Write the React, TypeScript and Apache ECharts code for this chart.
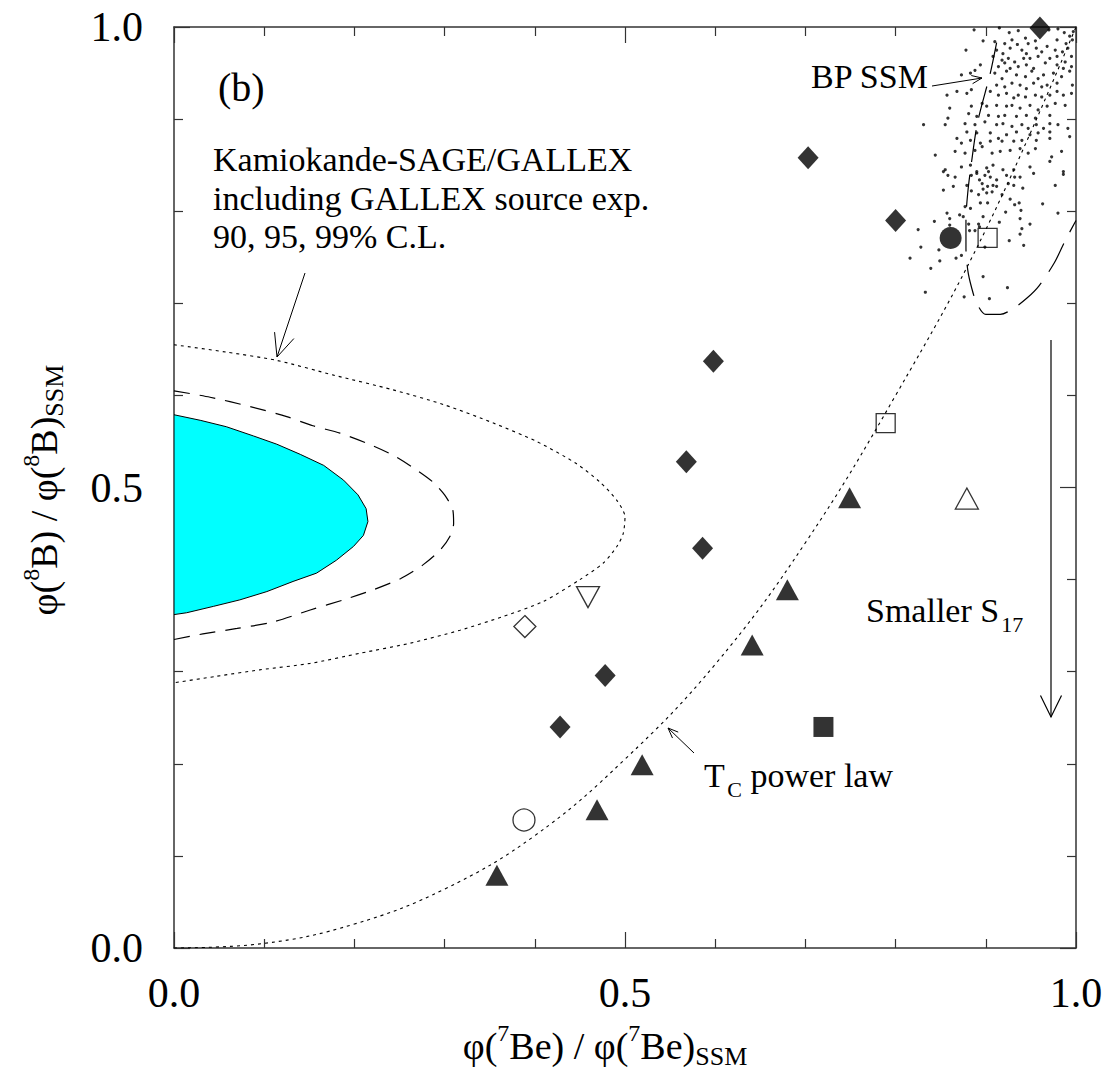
import React, { useEffect, useRef } from 'react';
import * as echarts from 'echarts';

// ---------- data ----------
const xTickValues = [0, 0.5, 1.0];
const xTickLabels = ['0.0', '0.5', '1.0'];
const yTickValues = [0, 0.5, 1.0];
const yTickLabels = ['0.0', '0.5', '1.0'];

// Kamiokande-SAGE/GALLEX 90% C.L. (filled), 95% (dashed), 99% (dotted)
const contour90 = [
  [0, 0.579], [0.029, 0.573], [0.058, 0.566], [0.088, 0.556], [0.114, 0.547], [0.140, 0.536],
  [0.166, 0.524], [0.188, 0.508], [0.204, 0.492], [0.213, 0.477], [0.215, 0.463], [0.210, 0.448],
  [0.199, 0.436], [0.180, 0.421], [0.158, 0.407], [0.132, 0.398], [0.103, 0.387], [0.073, 0.378],
  [0.044, 0.371], [0.014, 0.364], [0, 0.362],
];
const contour95 = [
  [0, 0.605], [0.040, 0.598], [0.084, 0.588], [0.125, 0.577], [0.154, 0.567], [0.184, 0.559],
  [0.214, 0.548], [0.243, 0.535], [0.269, 0.519], [0.287, 0.506], [0.300, 0.492], [0.309, 0.476],
  [0.310, 0.461], [0.306, 0.447], [0.295, 0.432], [0.276, 0.416], [0.251, 0.401], [0.221, 0.389],
  [0.188, 0.378], [0.151, 0.367], [0.110, 0.354], [0.070, 0.347], [0.032, 0.341], [0, 0.335],
];
const contour99 = [
  [0, 0.655], [0.058, 0.647], [0.114, 0.638], [0.177, 0.622], [0.243, 0.606], [0.299, 0.590],
  [0.354, 0.570], [0.402, 0.550], [0.446, 0.526], [0.472, 0.506], [0.491, 0.486], [0.500, 0.468],
  [0.498, 0.450], [0.491, 0.436], [0.476, 0.418], [0.450, 0.400], [0.409, 0.376], [0.365, 0.360],
  [0.317, 0.345], [0.262, 0.331], [0.206, 0.320], [0.151, 0.309], [0.095, 0.302], [0.047, 0.295], [0, 0.288],
];
// T_C power law curve
const tcPowerLaw = [
  [0, 0], [0.1, 0.005], [0.2, 0.026], [0.3, 0.064], [0.4, 0.122], [0.5, 0.205],
  [0.6, 0.308], [0.7, 0.44], [0.8, 0.6], [0.9, 0.78], [1.0, 1.0],
];
// BP SSM contour (long dashes)
const bpContour = [
  [0.912, 0.983], [0.905, 0.950], [0.891, 0.897], [0.884, 0.852], [0.880, 0.820], [0.878, 0.790],
  [0.878, 0.760], [0.880, 0.736], [0.884, 0.718], [0.890, 0.700], [0.900, 0.688], [0.916, 0.688],
  [0.930, 0.694], [0.946, 0.706], [0.959, 0.719], [0.976, 0.744], [0.988, 0.768], [1.0, 0.790],
];
// BP SSM Monte Carlo points
const bpDots = [
  [0.887, 0.997], [0.915, 0.999], [0.926, 0.994], [0.936, 0.996], [0.944, 0.988], [0.970, 0.997],
  [0.980, 0.998], [0.987, 0.994], [0.993, 0.990], [0.997, 0.995], [0.897, 0.985], [0.910, 0.984],
  [0.921, 0.982], [0.929, 0.986], [0.935, 0.981], [0.947, 0.982], [0.955, 0.985], [0.979, 0.986],
  [0.989, 0.982], [0.996, 0.986], [0.878, 0.975], [0.912, 0.975], [0.919, 0.971], [0.927, 0.977],
  [0.940, 0.975], [0.945, 0.971], [0.956, 0.977], [0.962, 0.973], [0.968, 0.979], [0.977, 0.975],
  [0.985, 0.973], [0.991, 0.977], [0.908, 0.968], [0.918, 0.964], [0.925, 0.966], [0.932, 0.962],
  [0.942, 0.966], [0.949, 0.966], [0.958, 0.968], [0.971, 0.966], [0.979, 0.968], [0.988, 0.962],
  [0.995, 0.968], [0.894, 0.959], [0.914, 0.957], [0.921, 0.961], [0.927, 0.955], [0.936, 0.957],
  [0.945, 0.959], [0.953, 0.955], [0.966, 0.961], [0.979, 0.959], [0.986, 0.955], [0.995, 0.957],
  [0.873, 0.948], [0.883, 0.950], [0.888, 0.953], [0.910, 0.950], [0.918, 0.944], [0.923, 0.952],
  [0.934, 0.948], [0.944, 0.946], [0.951, 0.952], [0.958, 0.944], [0.964, 0.948], [0.975, 0.950],
  [0.984, 0.946], [0.993, 0.952], [0.912, 0.937], [0.921, 0.935], [0.929, 0.939], [0.938, 0.937],
  [0.945, 0.933], [0.953, 0.939], [0.962, 0.935], [0.968, 0.937], [0.979, 0.939], [0.996, 0.937],
  [0.857, 0.926], [0.868, 0.930], [0.879, 0.928], [0.884, 0.932], [0.905, 0.930], [0.914, 0.926],
  [0.923, 0.928], [0.931, 0.923], [0.936, 0.926], [0.944, 0.924], [0.955, 0.926], [0.962, 0.924],
  [0.971, 0.926], [0.979, 0.930], [0.986, 0.926], [0.995, 0.928], [0.860, 0.912], [0.884, 0.914],
  [0.896, 0.917], [0.901, 0.914], [0.912, 0.915], [0.923, 0.914], [0.929, 0.915], [0.938, 0.912],
  [0.949, 0.915], [0.958, 0.910], [0.968, 0.914], [0.977, 0.917], [0.988, 0.915], [0.881, 0.906],
  [0.890, 0.903], [0.903, 0.904], [0.914, 0.903], [0.921, 0.904], [0.934, 0.903], [0.945, 0.904],
  [0.955, 0.901], [0.971, 0.904], [0.831, 0.894], [0.855, 0.894], [0.858, 0.901], [0.877, 0.895],
  [0.888, 0.894], [0.899, 0.897], [0.912, 0.894], [0.919, 0.895], [0.929, 0.892], [0.940, 0.894],
  [0.947, 0.890], [0.956, 0.894], [0.964, 0.890], [0.971, 0.895], [0.980, 0.894], [0.991, 0.890],
  [0.868, 0.879], [0.879, 0.886], [0.890, 0.885], [0.905, 0.885], [0.914, 0.879], [0.923, 0.883],
  [0.934, 0.886], [0.949, 0.883], [0.958, 0.885], [0.971, 0.886], [0.873, 0.874], [0.883, 0.877],
  [0.894, 0.874], [0.905, 0.876], [0.918, 0.876], [0.931, 0.876], [0.940, 0.877], [0.956, 0.877],
  [0.971, 0.879], [0.993, 0.881], [0.844, 0.861], [0.866, 0.865], [0.877, 0.863], [0.888, 0.866],
  [0.896, 0.870], [0.907, 0.863], [0.916, 0.865], [0.927, 0.866], [0.938, 0.868], [0.947, 0.863],
  [0.955, 0.868], [0.973, 0.859], [0.984, 0.865], [0.855, 0.845], [0.873, 0.848], [0.883, 0.850],
  [0.890, 0.843], [0.901, 0.847], [0.908, 0.850], [0.919, 0.845], [0.931, 0.845], [0.949, 0.848],
  [0.971, 0.854], [0.986, 0.843],
  [0.853, 0.843], [0.858, 0.839], [0.866, 0.837], [0.884, 0.839], [0.890, 0.841], [0.899, 0.839],
  [0.903, 0.843], [0.905, 0.837], [0.912, 0.834], [0.923, 0.839], [0.932, 0.837], [0.938, 0.837],
  [0.953, 0.841], [0.986, 0.840], [0.893, 0.834], [0.896, 0.830], [0.902, 0.827], [0.908, 0.828],
  [0.912, 0.827], [0.925, 0.830], [0.931, 0.828], [0.977, 0.828], [0.864, 0.827], [0.853, 0.823],
  [0.879, 0.828], [0.884, 0.822], [0.897, 0.824], [0.901, 0.820], [0.892, 0.818], [0.907, 0.821],
  [0.918, 0.818], [0.941, 0.825], [0.927, 0.813], [0.894, 0.809], [0.902, 0.809], [0.932, 0.807],
  [0.937, 0.809], [0.963, 0.808], [0.877, 0.805], [0.883, 0.803], [0.922, 0.799], [0.939, 0.801],
  [0.980, 0.798], [0.857, 0.798], [0.860, 0.792], [0.871, 0.796], [0.875, 0.794], [0.897, 0.794],
  [0.938, 0.792], [0.843, 0.789], [0.915, 0.788], [0.949, 0.786], [0.860, 0.785], [0.881, 0.786],
  [0.892, 0.786], [0.893, 0.783], [0.940, 0.781], [0.825, 0.780], [0.882, 0.779], [0.888, 0.779],
  [0.938, 0.775], [0.926, 0.768], [0.942, 0.763], [0.828, 0.761], [0.848, 0.758], [0.899, 0.761],
  [0.873, 0.752], [0.867, 0.749], [0.816, 0.749], [0.849, 0.746], [0.839, 0.738], [0.897, 0.729],
  [0.924, 0.717], [0.833, 0.712], [0.876, 0.707], [0.904, 0.705],
];

// model points
const filledDiamonds = [
  [0.960, 0.999], [0.703, 0.858], [0.800, 0.790], [0.598, 0.637], [0.568, 0.528],
  [0.586, 0.434], [0.478, 0.296], [0.428, 0.240],
];
const filledTriangles = [
  [0.749, 0.489], [0.680, 0.389], [0.641, 0.329], [0.519, 0.199], [0.469, 0.150], [0.358, 0.079],
];
const filledCircles = [[0.861, 0.771]];
const filledSquares = [[0.720, 0.240]];
const openSquares = [[0.902, 0.771], [0.789, 0.570]];
const openTrianglesUp = [[0.879, 0.488]];
const openTrianglesDown = [[0.459, 0.381]];
const openDiamonds = [[0.389, 0.349]];
const openCircles = [[0.388, 0.139]];

// ---------- helpers ----------
const SERIF = '"Liberation Serif", "Times New Roman", Times, serif';

type Part = { t: string; size: number; dy?: number };

let measureCtx: CanvasRenderingContext2D | null = null;
function textWidth(t: string, size: number): number {
  if (!measureCtx) measureCtx = document.createElement('canvas').getContext('2d');
  if (!measureCtx) return t.length * size * 0.5;
  measureCtx.font = `${size}px ${SERIF}`;
  return measureCtx.measureText(t).width;
}

// baseline-aligned runs of text (sub/superscripts), returned as children
function runs(parts: Part[], anchor: 'start' | 'middle') {
  const widths = parts.map((p) => textWidth(p.t, p.size));
  const total = widths.reduce((a, b) => a + b, 0);
  let x = anchor === 'middle' ? -total / 2 : 0;
  return parts.map((p, i) => {
    const el = {
      type: 'text',
      x,
      y: (p.dy || 0) - 0.3375 * p.size,
      style: {
        text: p.t,
        font: `${p.size}px ${SERIF}`,
        fill: '#000',
        textAlign: 'left',
        textVerticalAlign: 'middle',
      },
    };
    x += widths[i];
    return el;
  });
}

function arrow(x1: number, y1: number, x2: number, y2: number, len: number, deg: number, lw = 1) {
  const a = Math.atan2(y2 - y1, x2 - x1);
  const r = (deg * Math.PI) / 180;
  const p1 = [x2 - len * Math.cos(a - r), y2 - len * Math.sin(a - r)];
  const p2 = [x2 - len * Math.cos(a + r), y2 - len * Math.sin(a + r)];
  return [
    { type: 'line', shape: { x1, y1, x2, y2 }, style: { stroke: '#000', lineWidth: lw } },
    { type: 'polyline', shape: { points: [p1, [x2, y2], p2] }, style: { stroke: '#000', fill: null, lineWidth: lw } },
  ];
}

function lineSeries(data: number[][], dash: number[], width: number, smooth: number) {
  return {
    type: 'line',
    data,
    showSymbol: false,
    symbol: 'none',
    smooth,
    clip: true,
    z: 2,
    silent: true,
    lineStyle: { color: '#000', width, type: dash },
  };
}

function markerSeries(data: number[][], symbol: string, size: number | number[], filled: boolean, rotate = 0) {
  return {
    type: 'scatter',
    data,
    symbol,
    symbolSize: size,
    symbolRotate: rotate,
    z: 6,
    silent: true,
    itemStyle: filled
      ? { color: '#000', borderWidth: 0 }
      : { color: 'rgba(255,255,255,0)', borderColor: '#000', borderWidth: 1.3 },
  };
}

const AXIS_COLOR = '#333';

function makeAxis(position: string, isX: boolean, showLabels: boolean) {
  const values = isX ? xTickValues : yTickValues;
  const labels = isX ? xTickLabels : yTickLabels;
  return {
    type: 'value',
    position,
    min: 0,
    max: 1,
    interval: 0.5,
    axisLine: { show: true, onZero: false, lineStyle: { color: AXIS_COLOR, width: 1.5 } },
    axisTick: { show: true, inside: true, length: 16, lineStyle: { color: AXIS_COLOR, width: 1.2 } },
    minorTick: { show: true, splitNumber: 5, length: 9, lineStyle: { color: AXIS_COLOR, width: 1.2 } },
    splitLine: { show: false },
    minorSplitLine: { show: false },
    axisLabel: {
      show: showLabels,
      margin: isX ? 28 : 31,
      fontFamily: SERIF,
      fontSize: 42,
      lineHeight: 34,
      color: '#000',
      showMinLabel: true,
      showMaxLabel: true,
      formatter: (v: number) => {
        const i = values.findIndex((t) => Math.abs(t - v) < 1e-9);
        return i >= 0 ? labels[i] : '';
      },
    },
  };
}

export default function App() {
  const ref = useRef<HTMLDivElement>(null);

  useEffect(() => {
    if (!ref.current) return;
    const chart = echarts.init(ref.current, undefined, { renderer: 'svg' });

    const xTitle = runs(
      [
        { t: 'φ(', size: 38 },
        { t: '7', size: 24, dy: -18 },
        { t: 'Be) / φ(', size: 38 },
        { t: '7', size: 24, dy: -18 },
        { t: 'Be)', size: 38 },
        { t: 'SSM', size: 26, dy: 6 },
      ],
      'middle'
    );
    const yTitle = runs(
      [
        { t: 'φ(', size: 38 },
        { t: '8', size: 24, dy: -18 },
        { t: 'B) / φ(', size: 38 },
        { t: '8', size: 24, dy: -18 },
        { t: 'B)', size: 38 },
        { t: 'SSM', size: 26, dy: 6 },
      ],
      'middle'
    );
    const smaller = runs([{ t: 'Smaller S', size: 34 }, { t: ' ', size: 8 }, { t: '17', size: 22, dy: 10 }], 'start');
    const tcLabel = runs(
      [{ t: 'T', size: 34 }, { t: ' ', size: 10 }, { t: 'C', size: 22, dy: 10 }, { t: ' power law', size: 34 }],
      'start'
    );

    const plainText = (text: string, x: number, baseline: number, size: number) => ({
      type: 'group',
      x,
      y: baseline,
      children: runs([{ t: text, size }], 'start'),
    });

    const graphic: any[] = [
      { type: 'group', x: 605, y: 1059, children: xTitle },
      { type: 'group', x: 57, y: 490, rotation: Math.PI / 2, children: yTitle },
      plainText('(b)', 218, 101, 40),
      plainText('Kamiokande-SAGE/GALLEX', 213, 171, 34),
      plainText('including GALLEX source exp.', 213, 210, 34),
      plainText('90, 95, 99% C.L.', 213, 248, 34),
      plainText('BP SSM', 811, 88, 34),
      { type: 'group', x: 866, y: 622, children: smaller },
      { type: 'group', x: 704, y: 787, children: tcLabel },
      ...arrow(305, 273, 277, 357, 25, 24, 1),
      ...arrow(932, 86, 982, 78, 11, 22, 1),
      ...arrow(694, 753, 668, 728, 11, 22, 1),
      ...arrow(1051, 340, 1051, 717, 24, 26, 1.2),
    ];

    const option: any = {
      animation: false,
      backgroundColor: '#fff',
      grid: { left: 174, right: 34, top: 27, bottom: 137, containLabel: false },
      xAxis: [makeAxis('bottom', true, true), makeAxis('top', true, false)],
      yAxis: [makeAxis('left', false, true), makeAxis('right', false, false)],
      series: [
        {
          type: 'custom',
          coordinateSystem: 'cartesian2d',
          data: contour90,
          clip: true,
          z: 1,
          silent: true,
          renderItem: (params: any, api: any) => {
            if (params.dataIndex !== 0) return null;
            const pts = contour90.map((p) => api.coord(p));
            return {
              type: 'polygon',
              shape: { points: pts },
              style: { fill: '#00ffff', stroke: '#000', lineWidth: 1 },
            };
          },
        },
        lineSeries(contour95, [16, 10], 1.2, 0.25),
        lineSeries(contour99, [3, 4], 1.1, 0.25),
        lineSeries(tcPowerLaw, [3, 4], 1.1, 0.4),
        lineSeries(bpContour, [32, 13], 1.2, 0.3),
        {
          type: 'scatter',
          data: bpDots,
          symbol: 'circle',
          symbolSize: 3.2,
          z: 3,
          silent: true,
          itemStyle: { color: '#000' },
        },
        markerSeries(filledDiamonds, 'diamond', [21, 23], true),
        markerSeries(filledTriangles, 'triangle', [23, 21], true),
        markerSeries(filledCircles, 'circle', 22, true),
        markerSeries(filledSquares, 'rect', 20, true),
        markerSeries(openSquares, 'rect', 19, false),
        markerSeries(openTrianglesUp, 'triangle', [23, 21], false),
        markerSeries(openTrianglesDown, 'triangle', [23, 21], false, 180),
        markerSeries(openDiamonds, 'diamond', [22, 22], false),
        markerSeries(openCircles, 'circle', 22, false),
      ],
      graphic,
    };

    chart.setOption(option);
    return () => chart.dispose();
  }, []);

  return (
    <div
      ref={ref}
      style={{ position: 'fixed', left: 0, top: 0, width: 1110, height: 1085, background: '#fff' }}
    />
  );
}
